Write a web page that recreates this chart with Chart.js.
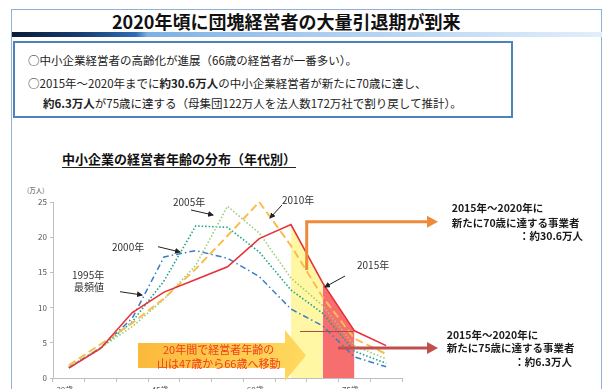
<!DOCTYPE html>
<html><head><meta charset="utf-8">
<script src="https://cdn.jsdelivr.net/npm/chart.js@4.4.1/dist/chart.umd.min.js"></script>
<style>
html,body{margin:0;padding:0;width:603px;height:389px;overflow:hidden;background:#fff;font-family:"Noto Sans CJK JP","Noto Sans",sans-serif;color:#222;}
.abs{position:absolute;white-space:nowrap;}
#wrap{position:absolute;left:0;top:190px;width:603px;height:210px;}
svg{position:absolute;left:0;top:0;}
.ann{font-size:10px;line-height:12px;color:#333;}
.rt{font-size:10.5px;line-height:14px;font-weight:bold;color:#1a1a1a;}
</style></head><body>
<!-- frame -->
<div class="abs" style="left:11px;top:9px;width:591px;height:420px;border:1px solid #8DB0DC;box-sizing:border-box"></div>
<div class="abs" style="left:12px;top:32px;width:590px;height:5px;background:linear-gradient(90deg,#0A1A35 0%,#163E74 12%,#2F6CB4 21%,#7DB0E4 23%,#A8CBEF 50%,#E2EEFA 100%)"></div>
<div class="abs" style="left:112px;top:10px;font-size:18px;line-height:22px;font-weight:bold;color:#111">2020年頃に団塊経営者の大量引退期が到来</div>
<!-- info box -->
<div class="abs" style="left:13px;top:41px;width:500px;height:77px;border:2px solid #4F81BD;box-sizing:border-box;background:#fff"></div>
<div class="abs" style="left:28px;top:52px;font-size:11.5px;line-height:16px">○中小企業経営者の高齢化が進展（66歳の経営者が一番多い）。</div>
<div class="abs" style="left:28px;top:75px;font-size:11.5px;line-height:16px">○2015年～2020年までに<b>約30.6万人</b>の中小企業経営者が新たに70歳に達し、</div>
<div class="abs" style="left:43px;top:95px;font-size:11.5px;line-height:16px"><b>約6.3万人</b>が75歳に達する（母集団122万人を法人数172万社で割り戻して推計）。</div>
<!-- chart subtitle -->
<div class="abs" style="left:62px;top:150px;font-size:13px;line-height:17px;font-weight:bold;color:#111;border-bottom:1.5px solid #222">中小企業の経営者年齢の分布（年代別）</div>
<div class="abs" style="left:27px;top:186px;font-size:6.5px;line-height:8px;color:#444">(万人)</div>

<div id="wrap"><canvas id="c" width="603" height="210"></canvas></div>

<svg width="603" height="389" viewBox="0 0 603 389">
  <defs>
    <linearGradient id="og" x1="0" x2="1" y1="0" y2="0">
      <stop offset="0" stop-color="#FBB93C"/>
      <stop offset="1" stop-color="#FFD95E"/>
    </linearGradient>
    <marker id="ah" markerWidth="6" markerHeight="6" refX="5" refY="3" orient="auto" markerUnits="userSpaceOnUse">
      <path d="M0,0 L6,3 L0,6 Z" fill="#222"/>
    </marker>
  </defs>
  <!-- big arrow -->
  <polygon points="138,343 285,343 285,330 306,355.5 285,381 285,368 138,368" fill="url(#og)"/>
  <!-- thin bracket line -->
  <line x1="300" y1="331.5" x2="353" y2="331.5" stroke="#B04848" stroke-width="1"/>
  <!-- orange bracket arrow -->
  <path d="M306.7 270 V221.7 H428" fill="none" stroke="#EE8B3A" stroke-width="3"/>
  <polygon points="427,215.7 438,221.7 427,227.7" fill="#EE8B3A"/>
  <!-- red arrow -->
  <path d="M338 348 H428" fill="none" stroke="#C0504D" stroke-width="3"/>
  <polygon points="427,342 438,348 427,354" fill="#C0504D"/>
  <!-- label arrows -->
  <line x1="191" y1="210" x2="213" y2="215" stroke="#222" stroke-width="1" marker-end="url(#ah)"/>
  <line x1="282" y1="205" x2="270" y2="218" stroke="#222" stroke-width="1" marker-end="url(#ah)"/>
  <line x1="158" y1="246.7" x2="180" y2="252" stroke="#222" stroke-width="1" marker-end="url(#ah)"/>
  <line x1="120" y1="291.7" x2="142" y2="295" stroke="#222" stroke-width="1" marker-end="url(#ah)"/>
  <line x1="345" y1="276" x2="325" y2="287" stroke="#222" stroke-width="1" marker-end="url(#ah)"/>
</svg>

<div class="abs" style="left:163px;top:343px;font-size:11px;line-height:13px;color:#F03C1E;text-align:center;width:107px">20年間で経営者年齢の</div>
<div class="abs" style="left:157px;top:356.5px;font-size:11px;line-height:13px;color:#F03C1E;text-align:center;width:119px">山は47歳から66歳へ移動</div>

<div class="abs ann" style="left:173px;top:196px">2005年</div>
<div class="abs ann" style="left:282px;top:194px">2010年</div>
<div class="abs ann" style="left:112px;top:240.7px">2000年</div>
<div class="abs ann" style="left:72px;top:269px">1995年</div>
<div class="abs ann" style="left:74px;top:281px">最頻値</div>
<div class="abs ann" style="left:357px;top:259px">2015年</div>

<div class="abs rt" style="left:451.7px;top:201.3px">2015年～2020年に</div>
<div class="abs rt" style="left:451.7px;top:215.7px">新たに70歳に達する事業者</div>
<div class="abs rt" style="right:20px;top:229px">：約30.6万人</div>
<div class="abs rt" style="left:446.7px;top:328px">2015年～2020年に</div>
<div class="abs rt" style="left:446.7px;top:341.3px">新たに75歳に達する事業者</div>
<div class="abs rt" style="right:31px;top:354.7px">：約6.3万人</div>

<script>
const categories = ['30歳〜','35歳〜','40歳〜','45歳〜','50歳〜','55歳〜','60歳〜','65歳〜','70歳〜','75歳〜','80歳〜'];
const y1995 = [1.5, 4.3, 8.5, 17.2, 18.1, 17.0, 14.4, 9.8, 7.4, 3.0, 1.6];
const y2000 = [1.5, 4.2, 8.0, 13.8, 21.6, 21.4, 17.9, 12.5, 9.2, 3.8, 2.1];
const y2005 = [1.6, 4.3, 7.3, 11.2, 16.0, 24.4, 20.6, 14.2, 10.3, 4.6, 2.7];
const y2010 = [1.8, 4.8, 7.8, 11.3, 15.5, 20.2, 25.0, 18.8, 11.5, 5.6, 3.4];
const y2015 = [1.4, 4.2, 9.3, 12.2, 14.0, 15.8, 19.8, 21.8, 13.5, 6.7, 4.6];
const yTicks = [0, 5, 10, 15, 20, 25];
const shownLabelIdx = [0, 3, 6, 9];
const yellowIdx = [7, 8];
const pinkIdx = [8, 9];

const line = (data, color, dash, width, order) => ({
  data, borderColor: color, borderDash: dash, borderWidth: width,
  pointRadius: 0, fill: false, tension: 0, order, clip: 6
});
const band = (idx, color) => ({
  data: y2015.map((v, i) => idx.includes(i) ? v : null),
  borderWidth: 0, borderColor: 'rgba(0,0,0,0)', backgroundColor: color,
  pointRadius: 0, fill: 'origin', spanGaps: false, order: 20
});

new Chart(document.getElementById('c'), {
  type: 'line',
  data: {
    labels: categories,
    datasets: [
      band(yellowIdx, '#FFF7A4'),
      band(pinkIdx, '#F66E6E'),
      line(y1995, '#3B7CC4', [6, 3, 1.5, 3], 1.5, 5),
      line(y2000, '#1FA287', [1.5, 2], 1.6, 4),
      line(y2005, '#9DCE72', [1.5, 2], 1.6, 3),
      line(y2010, '#F7BE4F', [8, 4], 2, 2),
      line(y2015, '#E8303A', [], 1.6, 1)
    ]
  },
  options: {
    responsive: false, animation: false, devicePixelRatio: 1,
    layout: { padding: { left: 0, right: 201, top: 12, bottom: 0 } },
    plugins: { legend: { display: false }, tooltip: { enabled: false }, filler: { drawTime: 'beforeDatasetsDraw' } },
    scales: {
      x: {
        offset: true,
        grid: { offset: true, drawOnChartArea: false, drawTicks: true, tickLength: 4, color: '#BFBFBF' },
        border: { color: '#BFBFBF' },
        ticks: {
          autoSkip: false, maxRotation: 0, padding: 3, color: '#555', font: { size: 8, family: '"Noto Sans CJK JP"' },
          callback: (v, i) => shownLabelIdx.includes(i) ? categories[i] : ''
        },
        afterFit: s => { s.height = 22; }
      },
      y: {
        min: 0, max: 25,
        afterBuildTicks: s => { s.ticks = yTicks.map(v => ({ value: v })); },
        grid: { drawOnChartArea: false, drawTicks: true, tickLength: 3, color: '#BFBFBF' },
        border: { color: '#BFBFBF' },
        ticks: { padding: 3, color: '#555', font: { size: 8, family: '"Noto Sans CJK JP"' } },
        afterFit: s => { s.width = 53; }
      }
    }
  }
});
</script>
</body></html>
